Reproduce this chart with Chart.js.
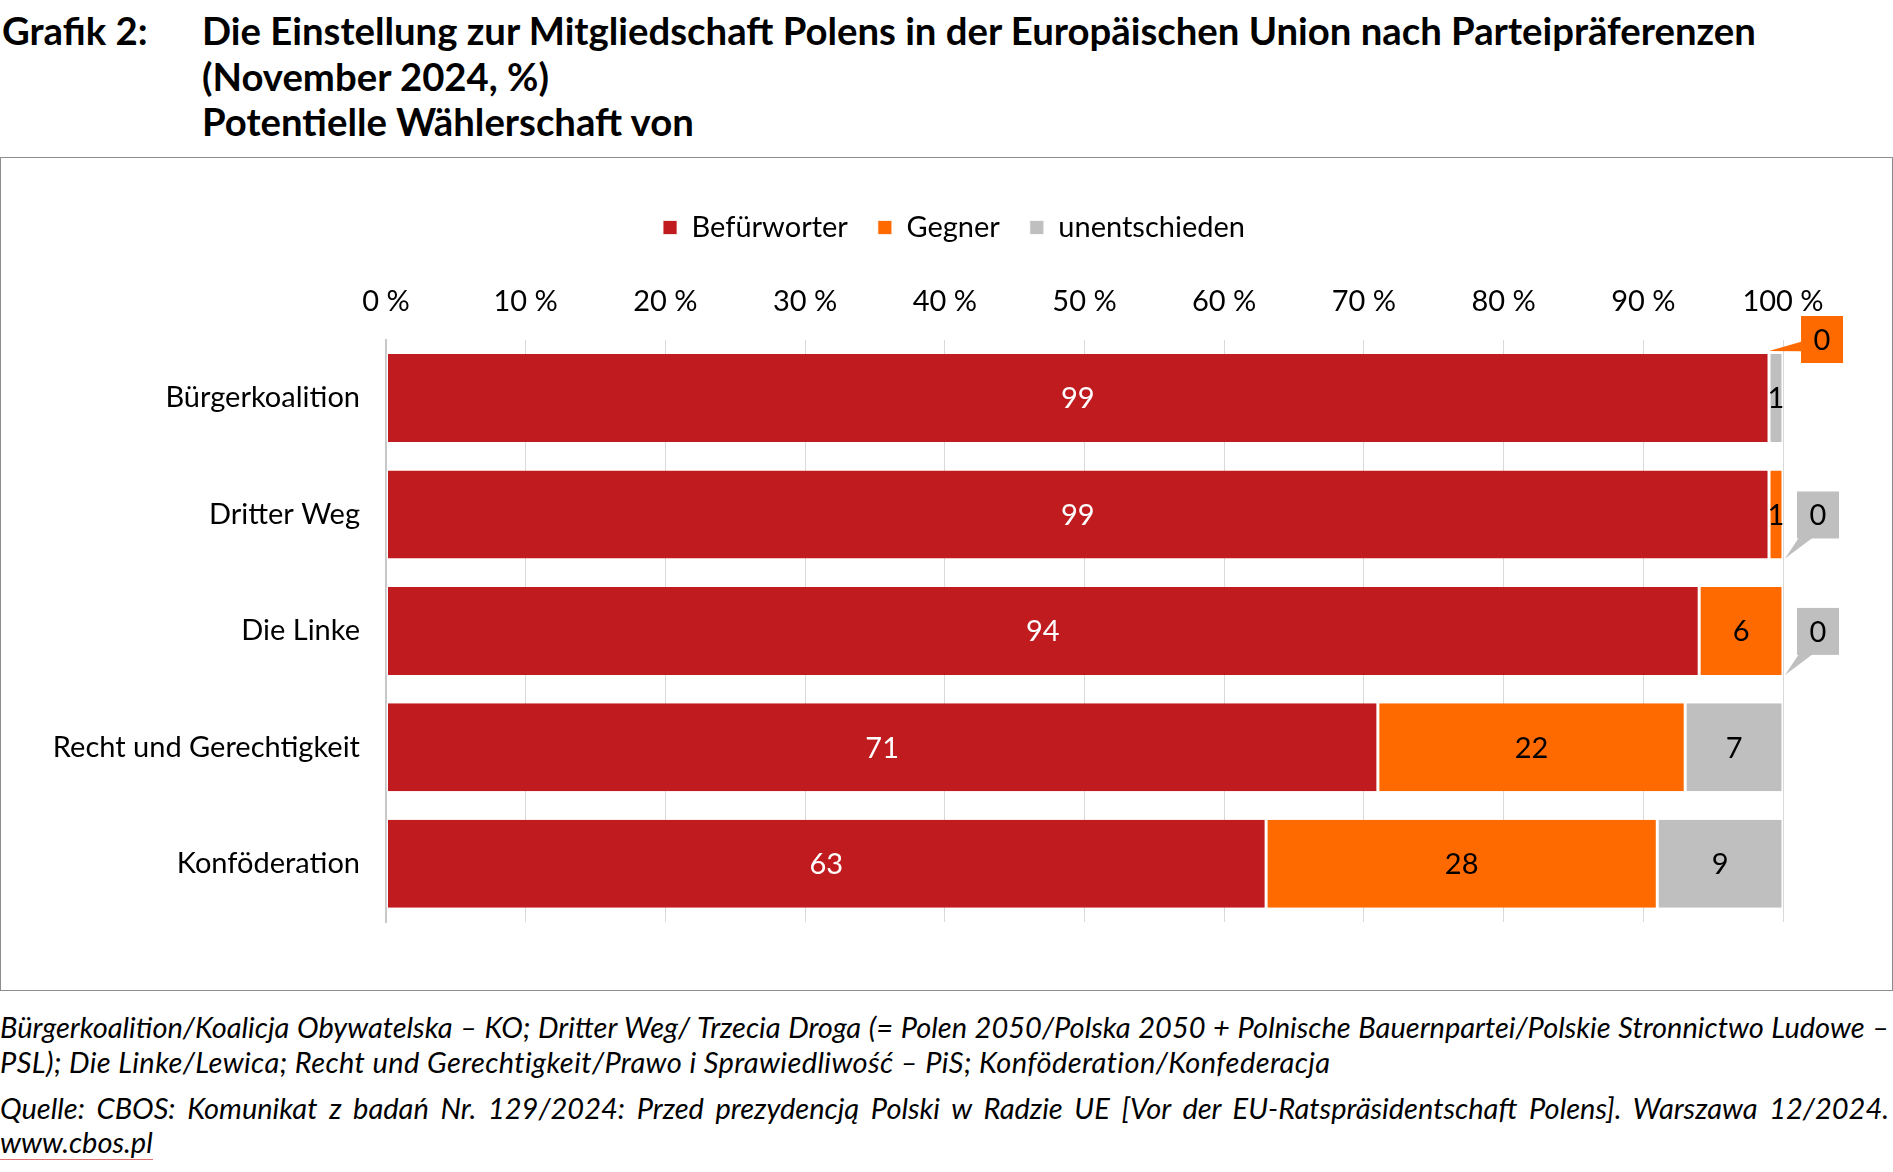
<!DOCTYPE html>
<html><head><meta charset="utf-8">
<script src="https://cdn.jsdelivr.net/npm/chart.js@4/dist/chart.umd.min.js"></script>
<style>
html,body{margin:0;padding:0;background:#fff}
body{font-family:Lato,sans-serif;color:#000;width:1893px;height:1172px;position:relative;overflow:hidden}
.t{position:absolute;font-weight:700;font-size:38.3px;line-height:45.5px;white-space:nowrap}
#t1{left:2px;top:8px}
#t2{left:202px;top:8px}
#box{position:absolute;left:0;top:157px;width:1891px;height:832px;border:1px solid #8c8c8c}
#c{position:absolute;left:0;top:0}
.fn{position:absolute;left:0;width:1889px;font-style:italic;font-size:29px;line-height:35px}
.j{text-align:justify;text-align-last:justify}
#link{position:absolute;left:0;top:1124px;font-style:italic;font-size:29px;line-height:35px;border-bottom:1.5px solid #e07070}
</style></head>
<body>
<div class="t" id="t1">Grafik 2:</div>
<div class="t" id="t2">Die Einstellung zur Mitgliedschaft Polens in der Europäischen Union nach Parteipräferenzen<br>(November 2024, %)<br>Potentielle Wählerschaft von</div>
<div id="box"><canvas id="c" width="1891" height="832"></canvas></div>
<div class="fn j" style="top:1009px">Bürgerkoalition/Koalicja Obywatelska – KO; Dritter Weg/ Trzecia Droga (= Polen 2050/Polska 2050 + Polnische Bauernpartei/Polskie Stronnictwo Ludowe –</div>
<div class="fn" style="top:1044px;letter-spacing:0.4px">PSL); Die Linke/Lewica; Recht und Gerechtigkeit/Prawo i Sprawiedliwość – PiS; Konföderation/Konfederacja</div>
<div class="fn j" style="top:1090px">Quelle: CBOS: Komunikat z badań Nr. 129/2024: Przed prezydencją Polski w Radzie UE [Vor der EU-Ratspräsidentschaft Polens]. Warszawa 12/2024.</div>
<div id="link">www.cbos.pl</div>
<script>
const categories = ["Bürgerkoalition", "Dritter Weg", "Die Linke", "Recht und Gerechtigkeit", "Konföderation"];
const seriesNames = ["Befürworter", "Gegner", "unentschieden"];
const befuerworter = [99, 99, 94, 71, 63];
const gegner = [0, 1, 6, 22, 28];
const unentschieden = [1, 0, 0, 7, 9];
const xTicks = [0, 10, 20, 30, 40, 50, 60, 70, 80, 90, 100];

const colors = ["#C01C1F", "#FF6A00", "#BFBFBF"];
const labelColors = ["#ffffff", "#000000", "#000000"];
const FS = 29;
const FONT = FS + "px Lato";

const legendShift = {
  id: 'legendShift',
  afterLayout(chart) { if (chart.legend) chart.legend.left = 124; }
};

const valueLabels = {
  id: 'valueLabels',
  afterDatasetsDraw(chart) {
    const ctx = chart.ctx;
    ctx.save();
    ctx.font = FONT;
    ctx.textAlign = 'center';
    ctx.textBaseline = 'middle';
    chart.data.datasets.forEach((ds, di) => {
      const meta = chart.getDatasetMeta(di);
      meta.data.forEach((bar, i) => {
        const v = ds.data[i];
        const p = bar.getProps(['x', 'y', 'base', 'height'], true);
        if (v === 0) {
          const w = 42, h = 47;
          ctx.fillStyle = colors[di];
          if (di === 1) {
            const tx = p.x, ty = p.y - p.height / 2 - 3;
            const bx = tx + 32, by = ty - 35;
            ctx.beginPath();
            ctx.moveTo(bx, by + h * 0.55);
            ctx.lineTo(tx, ty);
            ctx.lineTo(bx, by + h * 0.75);
            ctx.closePath();
            ctx.fill();
            ctx.fillRect(bx, by, w, h);
            ctx.fillStyle = '#000';
            ctx.fillText(String(v), bx + w / 2, by + h / 2 + 1);
          } else {
            const tx = p.x + 2, ty = p.y + p.height / 2;
            const bx = tx + 12, by = ty - 67;
            ctx.beginPath();
            ctx.moveTo(bx + 2, by + h - 1);
            ctx.lineTo(tx, ty);
            ctx.lineTo(bx + 16, by + h - 1);
            ctx.closePath();
            ctx.fill();
            ctx.fillRect(bx, by, w, h);
            ctx.fillStyle = '#000';
            ctx.fillText(String(v), bx + w / 2, by + h / 2 + 1);
          }
        } else {
          ctx.fillStyle = labelColors[di];
          ctx.fillText(String(v), (p.x + p.base) / 2, p.y + 1);
        }
      });
    });
    ctx.restore();
  }
};

const mk = (label, data, i) => ({
  label, data,
  backgroundColor: colors[i],
  borderColor: '#ffffff',
  borderWidth: {left: 1.5, right: 1.5, top: 0, bottom: 0},
  borderSkipped: false,
  barPercentage: 0.756,
  categoryPercentage: 1.0
});

new Chart(document.getElementById('c'), {
  type: 'bar',
  data: {
    labels: categories,
    datasets: [
      mk(seriesNames[0], befuerworter, 0),
      mk(seriesNames[1], gegner, 1),
      mk(seriesNames[2], unentschieden, 2)
    ]
  },
  options: {
    indexAxis: 'y',
    responsive: false,
    animation: false,
    layout: {padding: {top: 25, right: 109, bottom: 68, left: 0}},
    plugins: {
      legend: {
        position: 'top',
        labels: {font: {family: 'Lato', size: FS}, color: '#000', boxWidth: 14, boxHeight: 14, padding: 30}
      },
      tooltip: {enabled: false}
    },
    scales: {
      x: {
        position: 'top', stacked: true, min: 0, max: 100,
        afterBuildTicks(scale) { scale.ticks = xTicks.map(v => ({value: v})); },
        afterFit(scale) { scale.height += 11; },
        ticks: {font: {family: 'Lato', size: FS}, color: '#000', padding: 21, maxRotation: 0,
          callback: v => v + ' %'},
        grid: {color: '#D9D9D9', lineWidth: 1, drawTicks: false},
        border: {display: false}
      },
      y: {
        stacked: true,
        afterFit(scale) { scale.width = 385; },
        ticks: {font: {family: 'Lato', size: FS}, color: '#000', padding: 26},
        grid: {display: false, drawTicks: false},
        border: {display: true, color: '#C8C8C8', width: 2}
      }
    }
  },
  plugins: [legendShift, valueLabels]
});
</script>
</body></html>
